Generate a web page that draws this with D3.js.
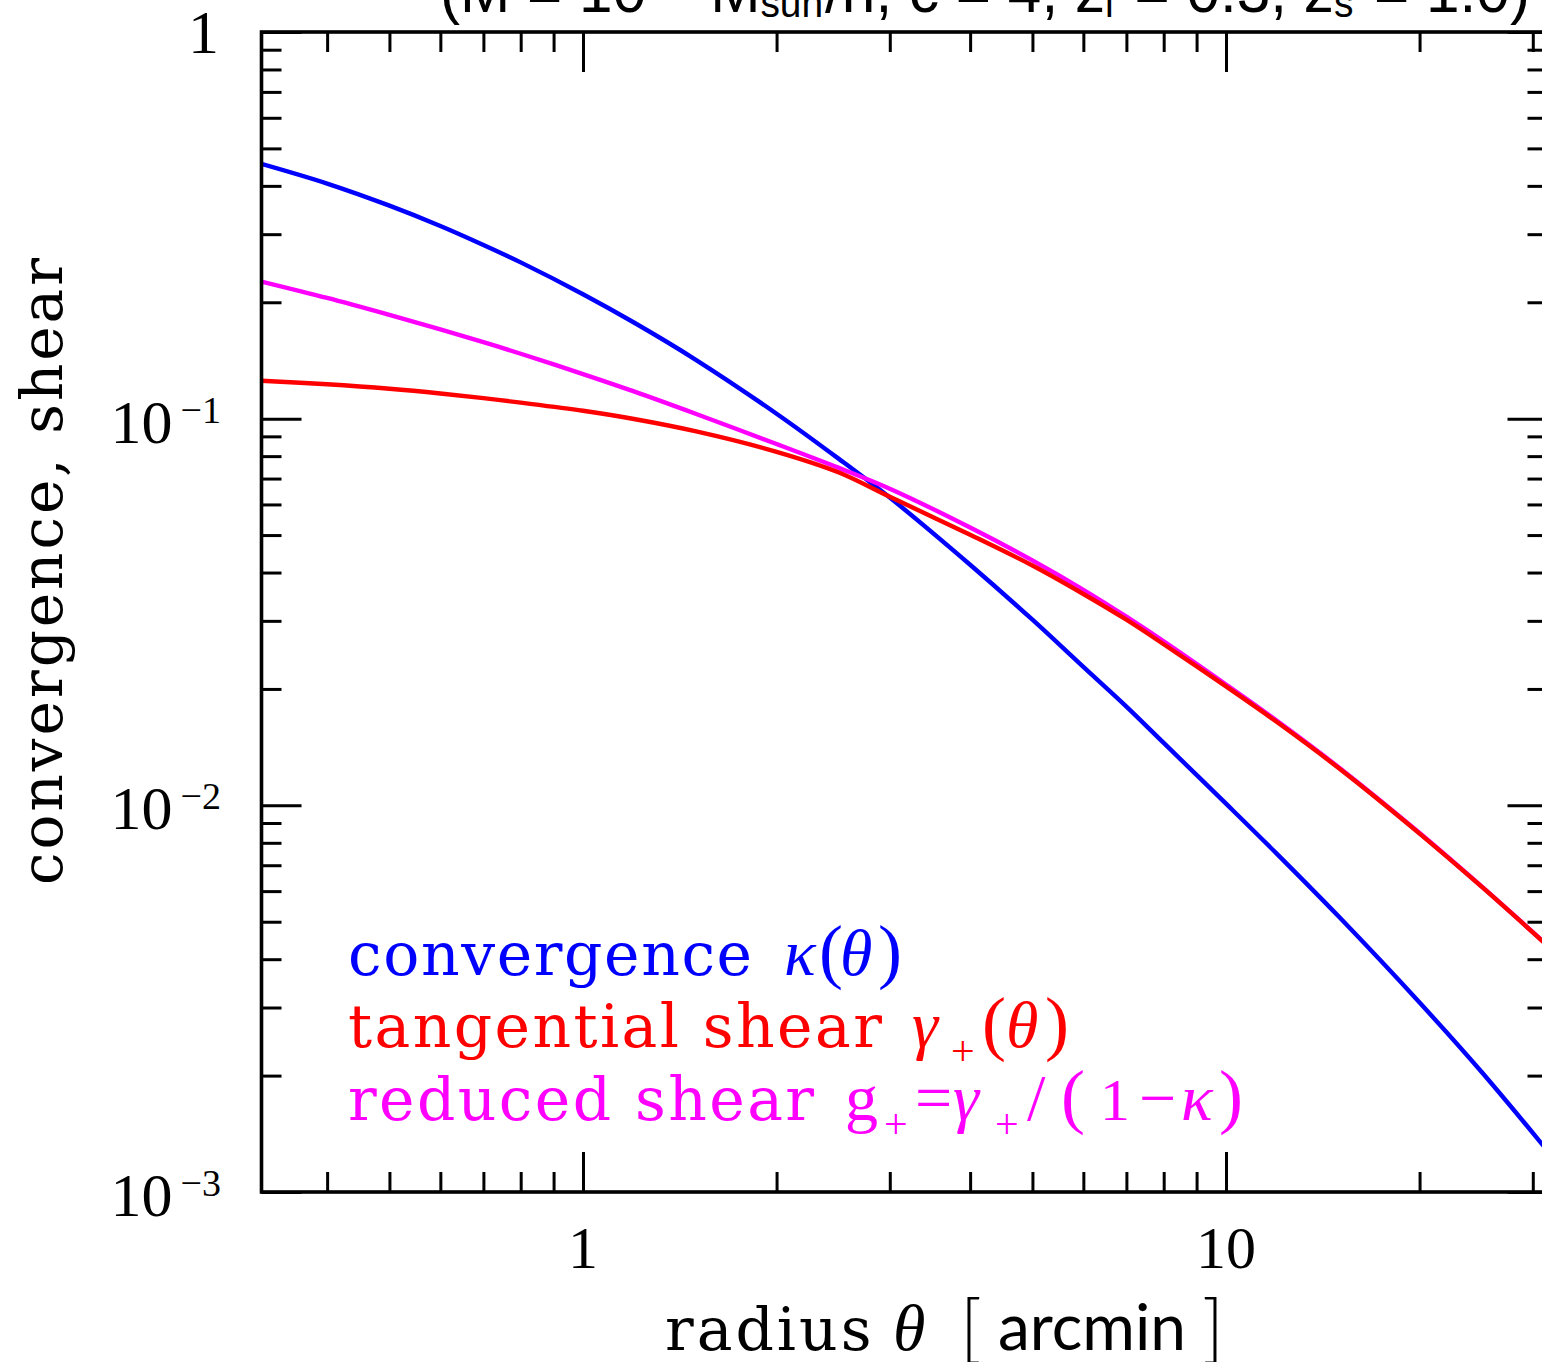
<!DOCTYPE html>
<html>
<head>
<meta charset="utf-8">
<script src="https://cdn.jsdelivr.net/npm/d3@7"></script>
<style>
  body { margin: 0; background: #fff; }
  svg { display: block; }
</style>
</head>
<body>
<div id="chart"></div>
<script>
// radius in arcmin and the three profiles
const theta = [0.316, 0.4, 0.5, 0.6, 0.7, 0.8, 1, 1.2, 1.5, 2, 2.5, 3, 4, 5, 6, 7, 8, 10, 12, 15, 20, 25, 31.6];
const kappa = [0.456, 0.4055, 0.3555, 0.315, 0.2813, 0.2536, 0.2098, 0.1773, 0.1418, 0.103, 0.0787, 0.0625, 0.0419, 0.0302, 0.0228, 0.018, 0.0145, 0.0101, 0.00749, 0.00514, 0.00309, 0.00204, 0.00128];
const gammaT = [0.1253, 0.1227, 0.1195, 0.1162, 0.113, 0.11, 0.1048, 0.0998, 0.0927, 0.0821, 0.0726, 0.0628, 0.0501, 0.0417, 0.0352, 0.0302, 0.0261, 0.0203, 0.01642, 0.01245, 0.00845, 0.00615, 0.00434];
const gReduced = [0.2263, 0.2052, 0.1855, 0.1703, 0.1577, 0.1472, 0.1304, 0.1176, 0.1028, 0.086, 0.0746, 0.0659, 0.0523, 0.043, 0.0361, 0.03075, 0.02655, 0.02053, 0.01654, 0.01251, 0.00848, 0.00616, 0.00435];

const xMajor = [1, 10];
const xMinor = [0.4, 0.5, 0.6, 0.7, 0.8, 0.9, 2, 3, 4, 5, 6, 7, 8, 9, 20, 30];
const yMajor = [0.001, 0.01, 0.1, 1];
const yMinor = [0.001, 0.01, 0.1].flatMap((d) => [2, 3, 4, 5, 6, 7, 8, 9].map((k) => k * d));
const yLabels = [
  { v: 1, base: "1", exp: "" },
  { v: 0.1, base: "10", exp: "\u22121" },
  { v: 0.01, base: "10", exp: "\u22122" },
  { v: 0.001, base: "10", exp: "\u22123" },
];

const W = 1542, H = 1362;
const plot = { left: 261.5, right: 1547.5, top: 32, bottom: 1192 };

const x = d3.scaleLog().domain([Math.pow(10, -0.5), Math.pow(10, 1.5)]).range([plot.left, plot.right]);
const y = d3.scaleLog().domain([0.001, 1]).range([plot.bottom, plot.top]);

const svg = d3.select("#chart").append("svg").attr("width", W).attr("height", H);
svg.append("rect").attr("width", W).attr("height", H).attr("fill", "#fff");

const serif = "'DejaVu Serif', serif";
const numFont = "'Liberation Serif', serif";
const mathFont = "'Liberation Serif', serif";

// title, mostly cut off at the top edge
const title = svg.append("text")
  .attr("x", 440).attr("y", 12)
  .attr("font-family", "'Liberation Sans', sans-serif")
  .attr("font-size", 62)
  .attr("textLength", 1090)
  .attr("lengthAdjust", "spacingAndGlyphs")
  .attr("fill", "#000");
title.append("tspan").text("(M = 10");
title.append("tspan").attr("dy", -26).attr("font-size", 40).text("15");
title.append("tspan").attr("dy", 26).attr("dx", 4).text(" M");
title.append("tspan").attr("dy", 5).attr("font-size", 40).text("sun");
title.append("tspan").attr("dy", -5).attr("dx", 2).text("/h, c = 4, z");
title.append("tspan").attr("dy", 5).attr("font-size", 40).text("l");
title.append("tspan").attr("dy", -5).attr("dx", 4).text(" = 0.3, z");
title.append("tspan").attr("dy", 5).attr("font-size", 40).text("s");
title.append("tspan").attr("dy", -5).attr("dx", 4).text(" = 1.0)");

// curves
svg.append("clipPath").attr("id", "clip")
  .append("rect")
  .attr("x", plot.left).attr("y", plot.top)
  .attr("width", plot.right - plot.left).attr("height", plot.bottom - plot.top);

const line = d3.line()
  .x((d) => x(d[0]))
  .y((d) => y(d[1]))
  .curve(d3.curveCatmullRom.alpha(0.5));

const series = [
  { values: kappa, color: "#0000ff" },
  { values: gReduced, color: "#ff00ff" },
  { values: gammaT, color: "#ff0000" },
];

svg.append("g").attr("clip-path", "url(#clip)")
  .selectAll("path")
  .data(series)
  .enter()
  .append("path")
  .attr("fill", "none")
  .attr("stroke", (d) => d.color)
  .attr("stroke-width", 4.4)
  .attr("stroke-linejoin", "round")
  .attr("d", (d) => line(theta.map((t, i) => [t, d.values[i]])));

// frame and inward ticks
const tickAxis = (axis, values, size, transform) => {
  const g = svg.append("g")
    .attr("transform", transform)
    .call(axis.tickValues(values).tickSize(-size).tickFormat(""));
  g.select(".domain").remove();
  g.selectAll(".tick line").attr("stroke", "#000").attr("stroke-width", 3);
};
tickAxis(d3.axisBottom(x), xMajor, 40, `translate(0,${plot.bottom})`);
tickAxis(d3.axisBottom(x), xMinor, 20, `translate(0,${plot.bottom})`);
tickAxis(d3.axisTop(x), xMajor, 40, `translate(0,${plot.top})`);
tickAxis(d3.axisTop(x), xMinor, 20, `translate(0,${plot.top})`);
tickAxis(d3.axisLeft(y), yMajor, 40, `translate(${plot.left},0)`);
tickAxis(d3.axisLeft(y), yMinor, 20, `translate(${plot.left},0)`);
tickAxis(d3.axisRight(y), yMajor, 40, `translate(${plot.right},0)`);
tickAxis(d3.axisRight(y), yMinor, 20, `translate(${plot.right},0)`);

svg.append("rect")
  .attr("x", plot.left).attr("y", plot.top)
  .attr("width", plot.right - plot.left).attr("height", plot.bottom - plot.top)
  .attr("fill", "none").attr("stroke", "#000").attr("stroke-width", 3.6);

// tick labels
svg.append("g").selectAll("text")
  .data(xMajor)
  .enter()
  .append("text")
  .attr("x", (d) => x(d))
  .attr("y", plot.bottom + 76)
  .attr("text-anchor", "middle")
  .attr("font-family", numFont)
  .attr("font-size", 60)
  .text((d) => d);

const yl = svg.append("g").selectAll("text")
  .data(yLabels)
  .enter()
  .append("text")
  .attr("x", (d) => (d.exp ? 221 : 219))
  .attr("y", (d) => y(d.v) + (d.exp ? 24 : 21))
  .attr("text-anchor", "end")
  .attr("font-family", numFont)
  .attr("font-size", 62);
yl.append("tspan").text((d) => d.base);
yl.append("tspan").attr("dy", -20).attr("dx", 8).attr("font-size", 38).text((d) => d.exp);

// axis titles
svg.append("text")
  .attr("transform", "translate(62,570) rotate(-90)")
  .attr("text-anchor", "middle")
  .attr("font-family", serif)
  .attr("font-size", 58)
  .attr("letter-spacing", 3)
  .text("convergence, shear");

const xt = svg.append("text")
  .attr("y", 1350)
  .attr("font-family", serif)
  .attr("font-size", 60);
xt.append("tspan").attr("x", 665).attr("letter-spacing", 3).text("radius");
xt.append("tspan").attr("x", 893).attr("font-family", mathFont).attr("font-style", "italic").attr("font-size", 66).text("\u03b8");
xt.append("tspan").attr("x", 960).attr("dy", 4).attr("font-family", "'Lato', sans-serif").attr("font-weight", 300).attr("font-size", 74).text("[");
xt.append("tspan").attr("x", 998).attr("dy", -4).attr("font-family", "'Lato', sans-serif").attr("font-size", 64).text("arcmin");
xt.append("tspan").attr("x", 1202).attr("dy", 4).attr("font-family", "'Lato', sans-serif").attr("font-weight", 300).attr("font-size", 74).text("]");

// legend
const legend = svg.append("g");
const addParts = (yPos, color, label, spacing, parts) => {
  const t = legend.append("text")
    .attr("y", yPos)
    .attr("fill", color)
    .attr("font-family", serif)
    .attr("font-size", 60);
  t.append("tspan").attr("x", 348).attr("letter-spacing", spacing).text(label);
  parts.forEach((p) => {
    const s = t.append("tspan")
      .attr("x", p.x)
      .attr("y", yPos + (p.sub ? 18 : 0))
      .attr("font-family", mathFont)
      .attr("font-size", p.sub ? 42 : (p.size || 66))
      .text(p.t);
    if (p.it) s.attr("font-style", "italic");
  });
};
addParts(975, "#0000ff", "convergence", 1.6, [
  { t: "\u03ba", x: 784, it: true },
  { t: "(", x: 819, size: 72 },
  { t: "\u03b8", x: 840, it: true },
  { t: ")", x: 878, size: 72 },
]);
addParts(1047, "#ff0000", "tangential shear", 2.4, [
  { t: "\u03b3", x: 912, it: true },
  { t: "+", x: 951, sub: true },
  { t: "(", x: 982, size: 72 },
  { t: "\u03b8", x: 1006, it: true },
  { t: ")", x: 1045, size: 72 },
]);
addParts(1120, "#ff00ff", "reduced shear", 2.4, [
  { t: "g", x: 845 },
  { t: "+", x: 884, sub: true },
  { t: "=", x: 915 },
  { t: "\u03b3", x: 953, it: true },
  { t: "+", x: 995, sub: true },
  { t: "/", x: 1027 },
  { t: "(", x: 1061, size: 72 },
  { t: "1", x: 1100, size: 60 },
  { t: "\u2212", x: 1139 },
  { t: "\u03ba", x: 1181, it: true },
  { t: ")", x: 1219, size: 72 },
]);
</script>
</body>
</html>
